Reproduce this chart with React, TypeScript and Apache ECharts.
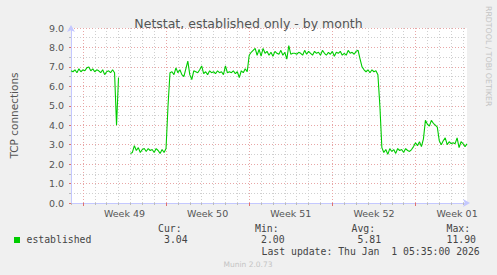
import React, { useEffect, useRef } from "react";
import * as echarts from "echarts";

const chartTitle = "Netstat, established only - by month";
const yAxisName = "TCP connections";
const weekLabels = ["Week 49", "Week 50", "Week 51", "Week 52", "Week 01"];
const seriesName = "established";
const statHeads = ["Cur:", "Min:", "Avg:", "Max:"];
const statValues = ["3.04", "2.00", "5.81", "11.90"];
const lastUpdate = "Last update: Thu Jan  1 05:35:00 2026";
const credit = "Munin 2.0.73";
const watermark = "RRDTOOL / TOBI OETIKER";

const stepHours = 4;
// samples every 4 hours, left edge of graph to right edge
const partA = [
  6.8, 6.75, 6.85, 6.7, 6.9, 6.75, 6.85, 6.8, 6.95, 7.0, 6.8, 6.9, 6.75, 6.85,
  6.8, 6.7, 6.85, 6.6, 6.75, 6.8, 6.7, 6.85, 6.7, 4.0, 6.45,
];
const gapLength = 5;
const partB = [
  2.55, 2.6, 2.95, 2.7, 2.85, 2.6, 2.75, 2.8, 2.65, 2.8, 2.7, 2.75, 2.6, 2.8,
  2.7, 2.55, 2.75, 2.6, 2.8, 5.0, 6.7, 6.75, 6.6, 6.95, 6.7, 6.85, 6.6, 6.5,
  6.9, 7.3, 6.6, 6.35, 6.8, 6.75, 6.7, 6.85, 7.05, 6.65, 6.75, 6.6, 6.8, 6.7,
  6.75, 6.65, 6.8, 6.7, 6.75, 6.6, 7.05, 6.7, 6.75, 6.7, 6.8, 6.65, 6.75, 6.45,
  6.8, 6.7, 6.9, 6.75, 7.6,
];
const partC = [
  7.75, 7.85, 7.95, 7.6, 7.9, 7.55, 7.95, 7.7, 7.8, 7.6, 7.75, 7.55, 7.8, 7.7,
  7.65, 7.85, 7.6, 7.75, 7.4, 8.1, 7.65, 7.7, 7.7, 7.65, 7.75, 7.7, 7.6, 7.85,
  7.65, 7.8, 7.7, 7.6, 7.8, 7.7, 7.75, 7.6, 7.85, 7.7, 7.6, 7.75, 7.65, 7.8,
  7.55, 7.75, 7.7, 7.8, 7.6, 7.7, 7.6, 7.85, 7.7, 7.75, 7.65, 7.8, 7.85, 7.4,
  7.0, 6.85, 6.75, 6.85, 6.7, 6.85, 6.75, 6.8, 6.6, 5.0,
];
const partD = [
  2.85, 2.6, 2.75, 2.5, 2.8, 2.65, 2.75, 2.55, 2.8, 2.7, 2.75, 2.6, 2.8, 2.7,
  2.65, 2.75, 2.9, 3.1, 2.95, 3.15, 2.9, 3.3, 4.25, 4.05, 3.95, 4.25, 4.1, 4.0,
  3.9, 3.2, 3.0, 3.2, 3.35, 3.0, 3.15, 3.05, 3.1, 3.05, 3.35, 2.85, 3.15, 3.05,
  2.9, 3.04,
];

const values: (number | null)[] = [
  ...partA,
  ...Array(gapLength).fill(null),
  ...partB,
  ...partC,
  ...partD,
];
const categories = values.map((_, i) => String(i * stepHours));

const perDay = 24 / stepHours; // 6 samples per day
const perWeek = 7 * perDay; // 42
const firstWeekIdx = 6; // Monday 00:00 of week 49
const firstLabelIdx = firstWeekIdx + perWeek / 2; // 27

const isWeek = (i: number) => i >= firstWeekIdx && (i - firstWeekIdx) % perWeek === 0;
const isDay = (i: number) => i % perDay === 0 && !isWeek(i);
const isLabel = (i: number) => i >= firstLabelIdx && (i - firstLabelIdx) % perWeek === 0;

const FONT = "DejaVu Sans";
const MONO = "DejaVu Sans Mono";
const AXIS = "#c4c8ff";
const MAJOR = "#e8a6a6";
const MINOR = "#cfcfcf";
const TXT = "#555555";

export default function App() {
  const ref = useRef<HTMLDivElement>(null);
  useEffect(() => {
    document.body.style.margin = "0";
    const chart = echarts.init(ref.current!, null, { renderer: "svg" });
    const monoText = (text: string, x: number, y: number, align = "left") => ({
      type: "text",
      x,
      y,
      style: {
        text,
        fill: "#444",
        font: `9.8px "${MONO}"`,
        textAlign: align,
        textVerticalAlign: "middle",
        verticalAlign: "middle",
      },
    });
    const statX = [158, 255, 351.5, 446.5];
    chart.setOption({
      animation: false,
      backgroundColor: "#f0f0f0",
      title: {
        text: chartTitle,
        left: "center",
        top: 12,
        textStyle: { fontFamily: FONT, fontSize: 12.5, fontWeight: "normal", color: TXT },
      },
      grid: {
        left: 67,
        top: 28,
        width: 400,
        height: 175,
        show: true,
        backgroundColor: "#ffffff",
        borderWidth: 0,
      },
      xAxis: [
        {
          type: "category",
          data: categories,
          boundaryGap: false,
          axisLine: {
            show: true,
            lineStyle: { color: AXIS, width: 1 },
            symbol: ["none", "arrow"],
            symbolSize: [6, 7],
            symbolOffset: [0, 3],
          },
          axisTick: {
            show: true,
            interval: (i: number) => isDay(i),
            length: 2,
            lineStyle: { color: "#bbbbbb" },
          },
          axisLabel: {
            show: true,
            interval: (i: number) => isLabel(i),
            formatter: (_v: string, i: number) =>
              weekLabels[(i - firstLabelIdx) / perWeek] ?? "",
            color: TXT,
            fontFamily: FONT,
            fontSize: 9.5,
            margin: 5,
          },
          splitLine: {
            show: true,
            interval: (i: number) => isDay(i) && i > 0,
            lineStyle: { color: MINOR, type: [1, 2], width: 1 },
          },
        },
        {
          type: "category",
          data: categories,
          boundaryGap: false,
          position: "bottom",
          axisLine: { show: false },
          axisLabel: { show: false },
          axisTick: {
            show: true,
            interval: (i: number) => isWeek(i),
            length: 3,
            lineStyle: { color: "#e07070" },
          },
          splitLine: {
            show: true,
            interval: (i: number) => isWeek(i),
            lineStyle: { color: MAJOR, type: [1, 2], width: 1 },
          },
        },
      ],
      yAxis: {
        type: "value",
        min: 0,
        max: 9,
        interval: 1,
        name: yAxisName,
        nameLocation: "middle",
        nameGap: 52,
        nameTextStyle: { fontFamily: FONT, fontSize: 10.5, color: TXT },
        axisLine: {
          show: true,
          lineStyle: { color: AXIS, width: 1 },
          symbol: ["none", "arrow"],
          symbolSize: [6, 7],
          symbolOffset: [0, 3],
        },
        axisTick: { show: true, length: 2, lineStyle: { color: "#e07070" } },
        minorTick: { show: true, splitNumber: 2, length: 2, lineStyle: { color: "#bbbbbb" } },
        axisLabel: {
          formatter: (v: number) => v.toFixed(1),
          color: TXT,
          fontFamily: FONT,
          fontSize: 9.5,
          margin: 7,
        },
        splitLine: { show: true, lineStyle: { color: MAJOR, type: [1, 2], width: 1 } },
        minorSplitLine: { show: true, lineStyle: { color: MINOR, type: [1, 2], width: 1 } },
      },
      series: [
        {
          name: seriesName,
          type: "line",
          data: values,
          xAxisIndex: 0,
          showSymbol: false,
          connectNulls: false,
          lineStyle: { color: "#00cc00", width: 1.1 },
          itemStyle: { color: "#00cc00" },
          z: 5,
        },
      ],
      graphic: [
        {
          type: "rect",
          shape: { x: 14, y: 237, width: 6, height: 6 },
          style: { fill: "#00cc00" },
        },
        monoText(seriesName, 26.5, 239.5),
        ...statHeads.map((h, k) => monoText(h, statX[k], 228)),
        ...statValues.map((v, k) =>
          monoText(v, statX[k] + (k === 3 ? 0 : 6), 239.5)
        ),
        monoText(lastUpdate, 261.5, 251.5),
        {
          type: "text",
          x: 248,
          y: 264,
          style: {
            text: credit,
            fill: "#c4c4c4",
            font: `7.5px "${FONT}"`,
            textAlign: "center",
            textVerticalAlign: "middle",
            verticalAlign: "middle",
          },
        },
        {
          type: "text",
          x: 488,
          y: 6,
          rotation: -Math.PI / 2,
          style: {
            text: watermark,
            fill: "#c4c4c4",
            font: `7.8px "${FONT}"`,
            textAlign: "left",
            textVerticalAlign: "middle",
            verticalAlign: "middle",
          },
        },
      ],
    });
    return () => chart.dispose();
  }, []);
  return (
    <div
      ref={ref}
      style={{ position: "fixed", left: 0, top: 0, width: 497, height: 275, background: "#f0f0f0" }}
    />
  );
}
